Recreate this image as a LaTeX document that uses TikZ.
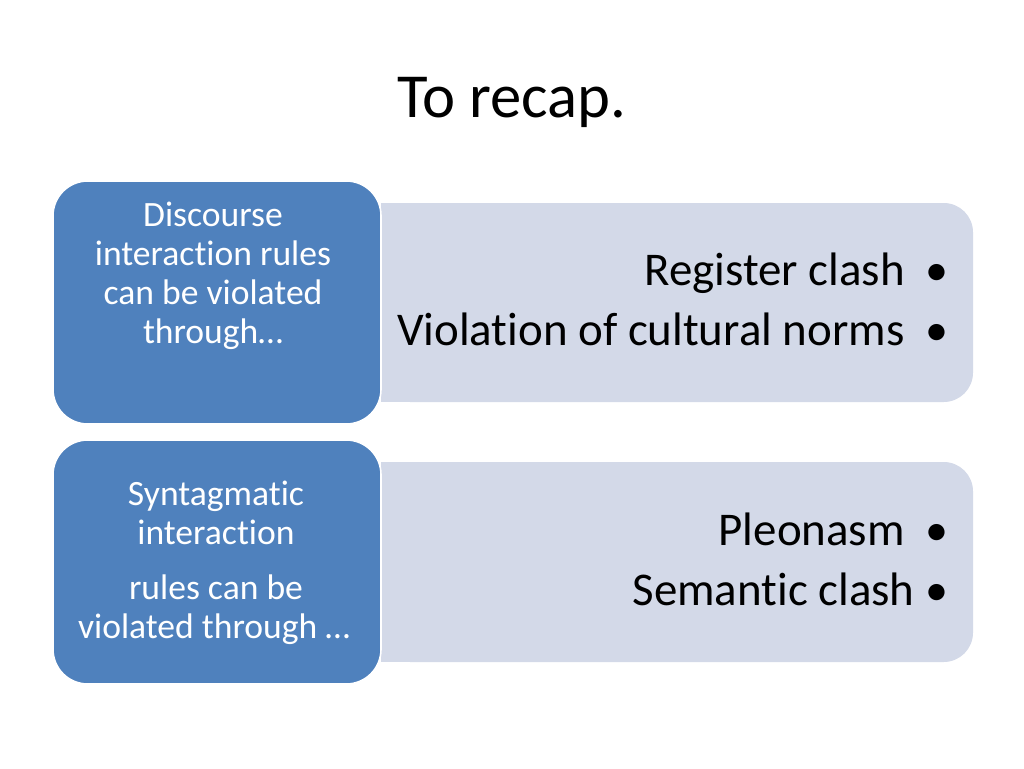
\documentclass[tikz,border=0pt]{standalone}
\usepackage{fontspec}
\setmainfont{Carlito}[Ligatures=NoCommon]
\definecolor{bluebox}{HTML}{4F81BD}
\definecolor{lightbox}{HTML}{D3D9E8}
\begin{document}
\begin{tikzpicture}[x=0.75pt,y=-0.75pt,
  titletext/.style={font=\fontsize{47pt}{56pt}\selectfont, anchor=base, inner sep=0pt},
  lefttext/.style={font=\fontsize{26.7pt}{32pt}\selectfont, text=white, anchor=base, inner sep=0pt},
  righttext/.style={font=\fontsize{35.2pt}{42pt}\selectfont, anchor=base east, inner sep=0pt},
  bullet/.style={font=\fontsize{34.5pt}{42pt}\selectfont, anchor=base, inner sep=0pt},
  bluebg/.style={fill=bluebox, draw=white, line width=1.2pt, rounded corners=26pt},
  lightbg/.style={fill=lightbox, rounded corners=22pt}]
\fill[white] (0,0) rectangle (1024,768);
\useasboundingbox (0,0) rectangle (1024,768);

\node[titletext] (title) at (512,117) {To recap.};

% light panels
\fill[lightbg] (381,203) rectangle (973,402);
\fill[lightbox] (381,203) rectangle (430,402);
\fill[lightbg] (381,462) rectangle (973,662);
\fill[lightbox] (381,462) rectangle (430,662);

% blue boxes
\draw[bluebg] (53,181) rectangle (381,424);
\draw[bluebg] (53,440) rectangle (381,684);

% left texts
\node[lefttext] (a1) at (213,226) {Discourse};
\node[lefttext] (a2) at (213,265) {interaction rules};
\node[lefttext] (a3) at (213,304) {can be violated};
\node[lefttext] (a4) at (213,343) {through…};

\node[lefttext] (b1) at (216,505) {Syntagmatic};
\node[lefttext] (b2) at (216,544) {interaction};
\node[lefttext] (b3) at (216,599) {rules can be};
\node[lefttext] (b4) at (214,638) {violated through …};

% right texts
\node[righttext] (r1) at (905,285) {Register clash};
\node[bullet] (r1b) at (937,285) {•};
\node[righttext] (r2) at (905,345) {Violation of cultural norms};
\node[bullet] (r2b) at (937,345) {•};

\node[righttext] (s1) at (905,545) {Pleonasm};
\node[bullet] (s1b) at (937,545) {•};
\node[righttext] (s2) at (915,605) {Semantic clash};
\node[bullet] (s2b) at (937,605) {•};
\end{tikzpicture}
\end{document}
